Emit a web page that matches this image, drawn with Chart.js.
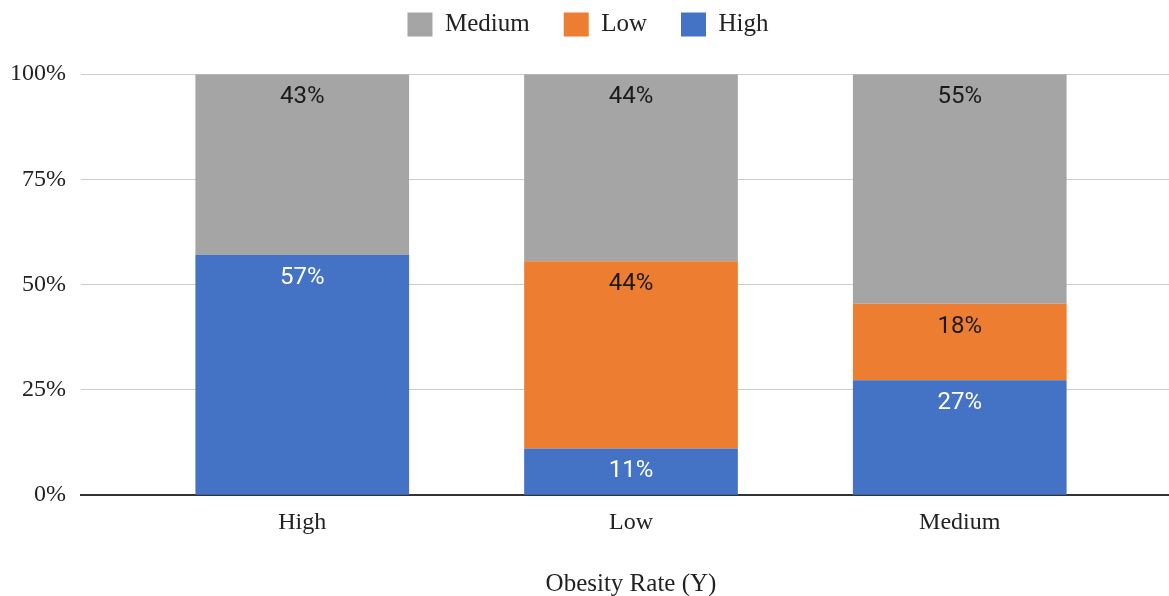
<!DOCTYPE html>
<html>
<head>
<meta charset="utf-8">
<script src="https://cdn.jsdelivr.net/npm/chart.js@4"></script>
<style>
    html, body { margin: 0; padding: 0; background: #fff; overflow: hidden; }
    #contenedor { width: 1182px; height: 596px; }
</style>
</head>
<body>
<div id="contenedor"><canvas id="graficaObesidad"></canvas></div>
<script>
    //-----------datos----------------------//
    const categorias = ['High', 'Low', 'Medium'];
    const valoresHigh = [57.1, 11.1, 27.3];
    const valoresLow = [0, 44.45, 18.2];
    const valoresMedium = [42.9, 44.45, 54.5];
    const ticksY = [0, 25, 50, 75, 100];

    const serif = '"Liberation Serif", "Times New Roman", serif';

    function puntos(valores) {
        return valores.map(function(v, i) {
            return { x: i, y: v };
        });
    }

    // etiquetas de porcentaje dentro de cada segmento
    const etiquetas = {
        id: 'etiquetas',
        afterDatasetsDraw: function(chart) {
            const ctx = chart.ctx;
            ctx.save();
            ctx.font = '24px Roboto, "Liberation Sans", sans-serif';
            ctx.textAlign = 'center';
            ctx.textBaseline = 'middle';
            chart.data.datasets.forEach(function(ds, d) {
                const meta = chart.getDatasetMeta(d);
                meta.data.forEach(function(bar, i) {
                    const v = ds.data[i].y;
                    if (!v) return;
                    ctx.fillStyle = ds.label === 'High' ? '#ffffff' : '#1a1a1a';
                    ctx.fillText(Math.round(v) + '%', bar.x, bar.y + 23);
                });
            });
            ctx.restore();
        }
    };

    const ctx = document.getElementById('graficaObesidad').getContext('2d');
    const myChart = new Chart(ctx, {
        type: 'bar',
        data: {
            datasets: [{
                label: 'High',
                data: puntos(valoresHigh),
                backgroundColor: '#4472C4'
            }, {
                label: 'Low',
                data: puntos(valoresLow),
                backgroundColor: '#ED7D31'
            }, {
                label: 'Medium',
                data: puntos(valoresMedium),
                backgroundColor: '#A5A5A5'
            }]
        },
        options: {
            responsive: true,
            maintainAspectRatio: false,
            animation: false,
            categoryPercentage: 1,
            barPercentage: 0.65,
            layout: {
                padding: { top: -22, left: -5, right: 1, bottom: -5 }
            },
            plugins: {
                tooltip: { enabled: false },
                legend: {
                    position: 'top',
                    reverse: true,
                    labels: {
                        boxWidth: 25,
                        boxHeight: 24,
                        padding: 34,
                        color: '#222',
                        font: { family: serif, size: 25 }
                    }
                },
                // separador entre leyenda y grafica
                title: {
                    display: true,
                    text: ' ',
                    weight: 500,
                    font: { size: 1 },
                    padding: { top: 0, bottom: 26 }
                }
            },
            scales: {
                x: {
                    type: 'linear',
                    stacked: true,
                    offset: false,
                    bounds: 'data',
                    min: -0.673,
                    max: 2.673,
                    afterBuildTicks: function(scale) {
                        scale.ticks = categorias.map(function(c, i) {
                            return { value: i };
                        });
                    },
                    grid: { display: false, drawTicks: false },
                    border: { display: true, color: '#333', width: 2 },
                    ticks: {
                        padding: 13,
                        color: '#222',
                        font: { family: serif, size: 24 },
                        callback: function(value) {
                            return categorias[value];
                        }
                    },
                    title: {
                        display: true,
                        text: 'Obesity Rate (Y)',
                        color: '#222',
                        font: { family: serif, size: 25 },
                        padding: { top: 19, bottom: 2 }
                    }
                },
                y: {
                    stacked: true,
                    min: 0,
                    max: 100,
                    afterBuildTicks: function(scale) {
                        scale.ticks = ticksY.map(function(v) {
                            return { value: v };
                        });
                    },
                    grid: {
                        color: '#cccccc',
                        lineWidth: 1,
                        drawTicks: false
                    },
                    border: { display: false },
                    ticks: {
                        padding: 15,
                        color: '#222',
                        font: { family: serif, size: 24 },
                        callback: function(value) {
                            return value + '%';
                        }
                    }
                }
            }
        },
        plugins: [etiquetas]
    });
</script>
</body>
</html>
